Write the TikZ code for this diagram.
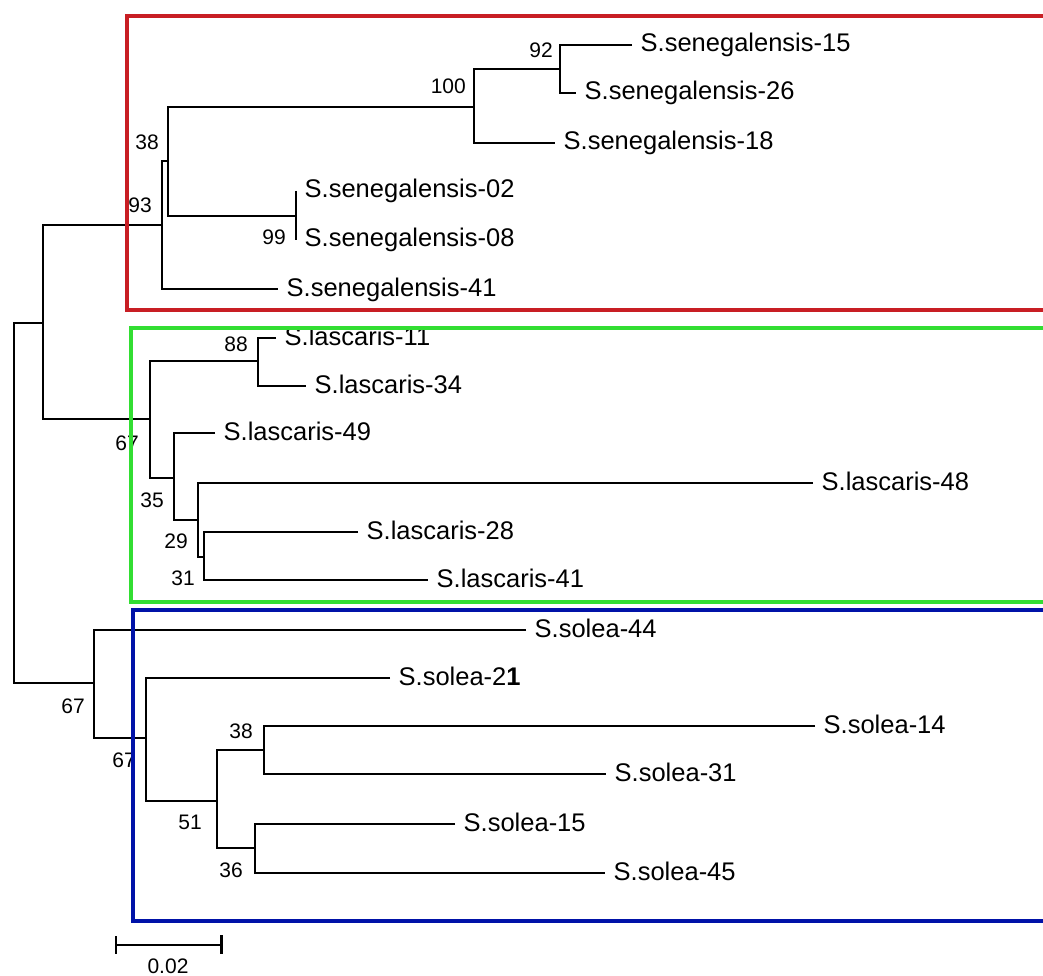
\documentclass[tikz,border=0pt]{standalone}
\usepackage{fontspec}
\setmainfont{Liberation Sans}
\definecolor{boxred}{RGB}{200,30,36}
\definecolor{boxgreen}{RGB}{50,222,50}
\definecolor{boxblue}{RGB}{0,18,168}
\begin{document}
\begin{tikzpicture}[x=1pt,y=-1pt,
  br/.style={line width=1.3pt, black},
  leaf/.style={anchor=base west, inner sep=0pt, font=\fontsize{25.5}{30}\selectfont, xshift=8.5pt, yshift=-7pt},
  boot/.style={anchor=base east, inner sep=0pt, font=\fontsize{21}{25}\selectfont},
  grp/.style={line width=4.5pt}]
\useasboundingbox (0,0) rectangle (1043,976);
\clip (0,0) rectangle (1043,976);
% internal nodes
\coordinate (root) at (14,503);
\coordinate (A) at (43,323);
\coordinate (sen) at (162,225);
\coordinate (n38s) at (168,161);
\coordinate (n100) at (474,107);
\coordinate (n92) at (560,69);
\coordinate (n99) at (296,216);
\coordinate (las) at (150,419);
\coordinate (n88) at (258,361);
\coordinate (n35) at (174,478);
\coordinate (n29) at (198,520);
\coordinate (n31) at (204,557);
\coordinate (sol) at (94,683);
\coordinate (n67b) at (146,738);
\coordinate (n51) at (217,801);
\coordinate (n38b) at (264,750);
\coordinate (n36) at (255,848);
% leaves
\coordinate (sen15) at (632,45);
\coordinate (sen26) at (576,93);
\coordinate (sen18) at (555,143);
\coordinate (sen02) at (296,191);
\coordinate (sen08) at (296,240);
\coordinate (sen41) at (278,289);
\coordinate (las11) at (276,338);
\coordinate (las34) at (306,386);
\coordinate (las49) at (215,433);
\coordinate (las48) at (813,483);
\coordinate (las28) at (358,532);
\coordinate (las41) at (428,580);
\coordinate (sol44) at (526,630);
\coordinate (sol21) at (390,678);
\coordinate (sol14) at (815,726);
\coordinate (sol31) at (606,774);
\coordinate (sol15) at (455,824);
\coordinate (sol45) at (605,873);
% branches
\draw[br] (A) -| (root) |- (sol);
\draw[br] (sen) -| (A) |- (las);
\draw[br] (n38s) -| (sen) |- (sen41);
\draw[br] (n100) -| (n38s) |- (n99);
\draw[br] (n92) -| (n100) |- (sen18);
\draw[br] (sen15) -| (n92) |- (sen26);
\draw[br] (sen02) -- (sen08);
\draw[br] (n88) -| (las) |- (n35);
\draw[br] (las11) -| (n88) |- (las34);
\draw[br] (las49) -| (n35) |- (n29);
\draw[br] (las48) -| (n29) |- (n31);
\draw[br] (las28) -| (n31) |- (las41);
\draw[br] (sol44) -| (sol) |- (n67b);
\draw[br] (sol21) -| (n67b) |- (n51);
\draw[br] (n38b) -| (n51) |- (n36);
\draw[br] (sol14) -| (n38b) |- (sol31);
\draw[br] (sol15) -| (n36) |- (sol45);
% leaf labels
\node[leaf] (tsen15) at (sen15) {S.senegalensis-15};
\node[leaf] (tsen26) at (sen26) {S.senegalensis-26};
\node[leaf] (tsen18) at (sen18) {S.senegalensis-18};
\node[leaf] (tsen02) at (sen02) {S.senegalensis-02};
\node[leaf] (tsen08) at (sen08) {S.senegalensis-08};
\node[leaf] (tsen41) at (sen41) {S.senegalensis-41};
\node[leaf] (tlas11) at (las11) {S.lascaris-11};
\node[leaf] (tlas34) at (las34) {S.lascaris-34};
\node[leaf] (tlas49) at (las49) {S.lascaris-49};
\node[leaf] (tlas48) at (las48) {S.lascaris-48};
\node[leaf] (tlas28) at (las28) {S.lascaris-28};
\node[leaf] (tlas41) at (las41) {S.lascaris-41};
\node[leaf] (tsol44) at (sol44) {S.solea-44};
\node[leaf] (tsol21) at (sol21) {S.solea-2\textbf{1}};
\node[leaf] (tsol14) at (sol14) {S.solea-14};
\node[leaf] (tsol31) at (sol31) {S.solea-31};
\node[leaf] (tsol15) at (sol15) {S.solea-15};
\node[leaf] (tsol45) at (sol45) {S.solea-45};
% bootstrap values
\node[boot] (b92) at (553,58) {92};
\node[boot] (b100) at (466,94) {100};
\node[boot] (b38s) at (159,150) {38};
\node[boot] (b93) at (152,213) {93};
\node[boot] (b99) at (286,244) {99};
\node[boot] (b88) at (248,351) {88};
\node[boot] (b67l) at (139,450) {67};
\node[boot] (b35) at (164,507) {35};
\node[boot] (b29) at (188,548) {29};
\node[boot] (b31) at (195,585) {31};
\node[boot] (b67s) at (85,713) {67};
\node[boot] (b67b) at (136,767) {67};
\node[boot] (b51) at (202,829) {51};
\node[boot] (b38b) at (253,738) {38};
\node[boot] (b36) at (243,877) {36};
% group boxes
\draw[grp, boxred] (127,16) rectangle (1070,310);
\draw[grp, boxgreen] (131,328) rectangle (1070,602);
\draw[grp, boxblue] (133,610) rectangle (1070,921);
% scale bar
\coordinate (sbL) at (116,945);
\coordinate (sbR) at (221,945);
\draw[br] (sbL) -- (sbR);
\draw[br] (116,936) -- (116,954);
\draw[line width=3pt] (221,935) -- (221,954);
\node[anchor=base, inner sep=0pt, font=\fontsize{21}{25}\selectfont] (sbt) at (168,973) {0.02};
\end{tikzpicture}
\end{document}
